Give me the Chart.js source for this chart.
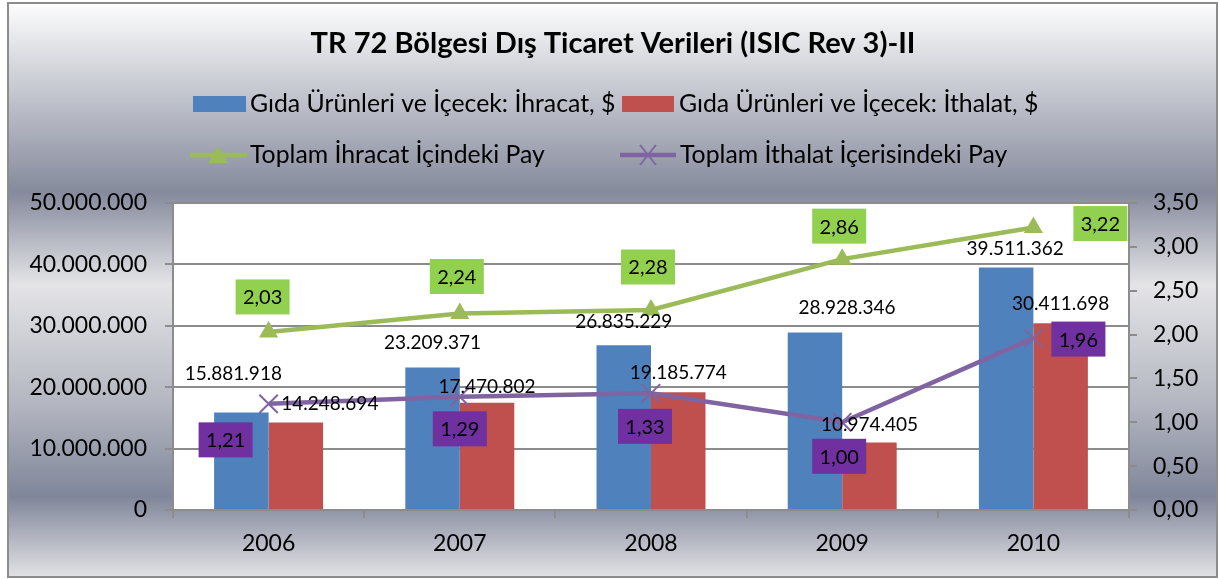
<!DOCTYPE html>
<html>
<head>
<meta charset="utf-8">
<script src="https://cdn.jsdelivr.net/npm/chart.js@4"></script>
<style>
  body { margin: 0; background: #fff; }
  #grafik { display: block; }
</style>
</head>
<body>
<canvas id="grafik" width="1219" height="579"></canvas>
<script>
const yillar = ['2006', '2007', '2008', '2009', '2010'];
const ihracat = [15881918, 23209371, 26835229, 28928346, 39511362];
const ithalat = [14248694, 17470802, 19185774, 10974405, 30411698];
const ihracatPay = [2.03, 2.24, 2.28, 2.86, 3.22];
const ithalatPay = [1.21, 1.29, 1.33, 1.00, 1.96];
const baslik = 'TR 72 Bölgesi Dış Ticaret Verileri (ISIC Rev 3)-II';

const FONT = 'Lato, "Open Sans", sans-serif';

function binlik(n) {
    return String(Math.round(n)).replace(/\B(?=(\d{3})+(?!\d))/g, '.');
}
function ondalik(v) {
    return v.toFixed(2).replace('.', ',');
}

// label nudges (px) relative to the bar top / point, as placed in the original
const barEtiketKaydir = [
    [[-8, -39], [0, -25], [0, -23], [32, -25], [9, -19]],
    [[34, -19], [0, -16], [0, -19], [0, -18], [0, -19]]
];
const kutuKaydir = [
    [[-6, -35], [-3, -37], [-3, -43], [-3, -33], [67, -4]],
    [[-43, 36], [0, 32], [-6, 33], [-3, 34], [45, 1]]
];

const arkaPlan = {
    id: 'arkaPlan',
    beforeDraw(chart) {
        const ctx = chart.ctx;
        const W = chart.width, H = chart.height;
        ctx.save();
        ctx.fillStyle = '#ffffff';
        ctx.fillRect(0, 0, W, H);
        const g = ctx.createLinearGradient(0, 3, 0, 577);
        g.addColorStop(0.00, '#fdfdfd');
        g.addColorStop(0.33, '#858a9c');
        g.addColorStop(0.49, '#e4e4e7');
        g.addColorStop(0.70, '#b3b6c0');
        g.addColorStop(0.86, '#80869a');
        g.addColorStop(1.00, '#e2e2e5');
        ctx.fillStyle = g;
        ctx.fillRect(8, 3, 1209, 574);
        ctx.strokeStyle = '#8c8c8c';
        ctx.lineWidth = 2;
        ctx.strokeRect(8, 3, 1209, 574);
        const a = chart.chartArea;
        ctx.fillStyle = '#ffffff';
        ctx.fillRect(a.left, a.top, a.right - a.left, a.bottom - a.top);
        ctx.restore();
    },
    afterDatasetsDraw(chart) {
        const ctx = chart.ctx;
        ctx.save();
        ctx.textAlign = 'center';
        ctx.textBaseline = 'middle';

        // bar value labels
        ctx.font = '19px ' + FONT;
        ctx.fillStyle = '#000';
        [0, 1].forEach((ds) => {
            const meta = chart.getDatasetMeta(ds);
            const veri = chart.data.datasets[ds].data;
            meta.data.forEach((bar, i) => {
                const k = barEtiketKaydir[ds][i];
                ctx.fillText(binlik(veri[i]), bar.x + k[0], bar.y + k[1]);
            });
        });

        // boxed share labels
        const renkler = ['#92d050', '#7030a0'];
        ctx.font = '20px ' + FONT;
        [2, 3].forEach((ds, j) => {
            const meta = chart.getDatasetMeta(ds);
            const veri = chart.data.datasets[ds].data;
            meta.data.forEach((p, i) => {
                const k = kutuKaydir[j][i];
                const cx = p.x + k[0], cy = p.y + k[1];
                ctx.fillStyle = renkler[j];
                ctx.fillRect(cx - 27, cy - 17.5, 54, 35);
                ctx.fillStyle = '#000';
                ctx.fillText(ondalik(veri[i]), cx, cy + 1);
            });
        });
        ctx.restore();
    },
    afterDraw(chart) {
        const ctx = chart.ctx;
        ctx.save();
        ctx.fillStyle = '#000';
        ctx.textBaseline = 'middle';
        ctx.textAlign = 'center';
        ctx.font = 'bold 29px ' + FONT;
        ctx.fillText(baslik, 613, 44);

        ctx.textAlign = 'left';
        ctx.font = '24.8px ' + FONT;
        const ds = chart.data.datasets;
        // row 1: bar swatches
        ctx.fillStyle = ds[0].backgroundColor;
        ctx.fillRect(193, 96, 53, 16);
        ctx.fillStyle = ds[1].backgroundColor;
        ctx.fillRect(622, 96, 52, 16);
        ctx.fillStyle = '#000';
        ctx.fillText(ds[0].label, 250, 104);
        ctx.fillText(ds[1].label, 679, 104);
        // row 2: line + marker
        ctx.lineWidth = 4.5;
        ctx.strokeStyle = ds[2].borderColor;
        ctx.beginPath(); ctx.moveTo(190, 155); ctx.lineTo(247, 155); ctx.stroke();
        ctx.fillStyle = ds[2].borderColor;
        ctx.beginPath();
        ctx.moveTo(218, 146); ctx.lineTo(228, 163); ctx.lineTo(208, 163); ctx.closePath();
        ctx.fill();
        ctx.strokeStyle = ds[3].borderColor;
        ctx.beginPath(); ctx.moveTo(620, 155); ctx.lineTo(676, 155); ctx.stroke();
        ctx.lineWidth = 2;
        ctx.beginPath();
        ctx.moveTo(640, 145); ctx.lineTo(656, 165);
        ctx.moveTo(656, 145); ctx.lineTo(640, 165);
        ctx.stroke();
        ctx.fillStyle = '#000';
        ctx.fillText(ds[2].label, 250, 155);
        ctx.fillText(ds[3].label, 680, 155);
        ctx.restore();
    }
};

const izgara = '#8c8c8c';

const config = {
    type: 'bar',
    data: {
        labels: yillar,
        datasets: [
            {
                label: 'Gıda Ürünleri ve İçecek: İhracat, $',
                data: ihracat,
                backgroundColor: '#4f81bd',
                yAxisID: 'y',
                order: 2,
                categoryPercentage: 0.57,
                barPercentage: 1.0
            },
            {
                label: 'Gıda Ürünleri ve İçecek: İthalat, $',
                data: ithalat,
                backgroundColor: '#c0504d',
                yAxisID: 'y',
                order: 2,
                categoryPercentage: 0.57,
                barPercentage: 1.0
            },
            {
                type: 'line',
                label: 'Toplam İhracat İçindeki Pay',
                data: ihracatPay,
                borderColor: '#9bbb59',
                backgroundColor: '#9bbb59',
                borderWidth: 4.5,
                pointStyle: 'triangle',
                pointRadius: 11,
                pointBorderWidth: 0,
                pointBackgroundColor: '#9bbb59',
                yAxisID: 'y1',
                order: 1
            },
            {
                type: 'line',
                label: 'Toplam İthalat İçerisindeki Pay',
                data: ithalatPay,
                borderColor: '#8064a2',
                backgroundColor: '#8064a2',
                borderWidth: 4.5,
                pointStyle: 'crossRot',
                pointRadius: 13,
                pointBorderWidth: 2,
                pointBorderColor: '#8064a2',
                yAxisID: 'y1',
                order: 0
            }
        ]
    },
    options: {
        responsive: false,
        animation: false,
        layout: { padding: { top: 203, left: 0, right: 0, bottom: 0 } },
        plugins: {
            legend: { display: false },
            title: { display: false },
            tooltip: { enabled: false }
        },
        scales: {
            x: {
                afterFit: (s) => { s.height = 69; },
                grid: { offset: true, drawOnChartArea: false, tickLength: 8, color: izgara, lineWidth: 2 },
                border: { color: izgara, width: 2 },
                ticks: { color: '#000', font: { family: FONT, size: 23 }, padding: 12 }
            },
            y: {
                position: 'left',
                min: 0,
                max: 50000000,
                afterFit: (s) => { s.width = 173; },
                ticks: { stepSize: 10000000, color: '#000', font: { family: FONT, size: 23 }, padding: 18,
                    callback: (v) => binlik(v) },
                grid: { color: izgara, lineWidth: 2, tickLength: 8 },
                border: { color: izgara, width: 2 }
            },
            y1: {
                position: 'right',
                min: 0,
                max: 3.5,
                afterFit: (s) => { s.width = 90; },
                ticks: { stepSize: 0.5, color: '#000', font: { family: FONT, size: 23 }, padding: 16,
                    callback: (v) => ondalik(v) },
                grid: { drawOnChartArea: false, color: izgara, lineWidth: 2, tickLength: 8 },
                border: { color: izgara, width: 2 }
            }
        }
    },
    plugins: [arkaPlan]
};

const grafik = new Chart(document.getElementById('grafik'), config);
</script>
</body>
</html>
